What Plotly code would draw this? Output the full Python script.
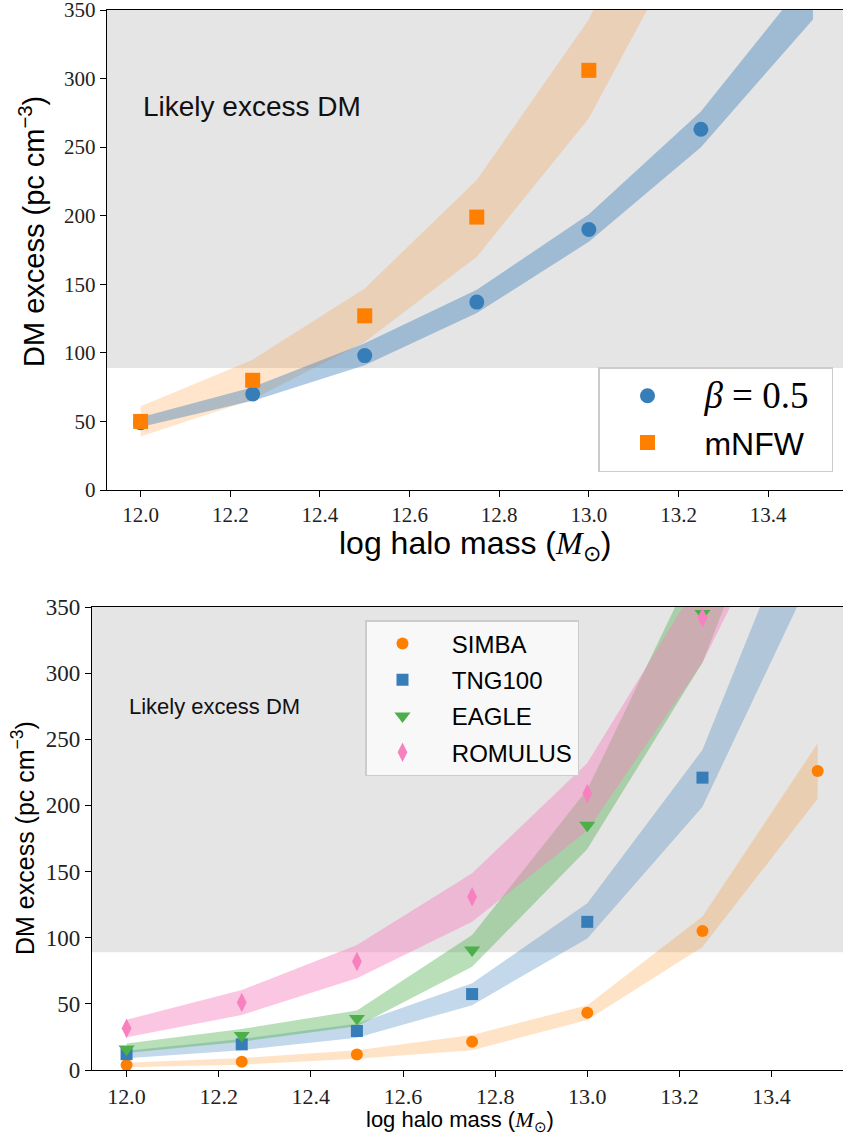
import plotly.graph_objects as go

# ---------------- data ----------------
log_mass = [12.0, 12.25, 12.5, 12.75, 13.0, 13.25, 13.5]
threshold = 89

# top panel
beta_val = [49, 70, 98, 137, 190, 263, 360]
beta_lo = [46, 65, 91, 129, 181, 250, 343]
beta_hi = [53, 75, 107, 146, 201, 276, 378]

mnfw_val = [50, 80, 127, 199, 306, 460, 680]
mnfw_lo = [39, 66, 108, 170, 271, 423, 620]
mnfw_hi = [61, 95, 147, 226, 343, 520, 760]

# bottom panel
simba_val = [3.8, 6.3, 11.8, 21.4, 43.3, 105, 226]
simba_lo = [2, 4, 8.5, 15, 37.8, 93, 205]
simba_hi = [5.5, 9, 15, 26.4, 49, 116, 247]

tng_val = [12, 19.4, 29.5, 57.4, 112, 221, 420]
tng_lo = [8.8, 15, 24.4, 49, 99.5, 199, 383]
tng_hi = [14.5, 23.5, 35, 65.5, 126, 242, 458]

eagle_val = [15.9, 26, 39, 90.7, 185, 345, 560]
eagle_lo = [12.8, 21.4, 33, 78, 167, 308, 531]
eagle_hi = [20, 31, 45, 102, 212, 393, 600]

romulus_val = [31.5, 51, 82, 131, 209, 342, 520]
romulus_lo = [24.7, 41.6, 69.3, 112, 181, 308, 483]
romulus_hi = [38, 60.5, 94.5, 148.7, 232, 374, 560]

x_ticks = [12.0, 12.2, 12.4, 12.6, 12.8, 13.0, 13.2, 13.4]
y_ticks = [0, 50, 100, 150, 200, 250, 300, 350]

ORANGE = "#ff7f00"
BLUE = "#377eb8"
GREEN = "#4daf4a"
PINK = "#f781bf"

SANS = "Liberation Sans"
SERIF = "Liberation Serif"

W, H = 843, 1139


def rgba(hexc, a):
    h = hexc.lstrip("#")
    r, g, b = int(h[0:2], 16), int(h[2:4], 16), int(h[4:6], 16)
    return f"rgba({r},{g},{b},{a})"


fig = go.Figure()


def band(xa, ya, lo, hi, color, alpha):
    fig.add_trace(go.Scatter(
        x=log_mass + log_mass[::-1], y=hi + lo[::-1], xaxis=xa, yaxis=ya,
        fill="toself", fillcolor=rgba(color, alpha), line=dict(width=0),
        mode="lines", showlegend=False, hoverinfo="skip"))


def points(xa, ya, vals, color, symbol, size, name, legend):
    fig.add_trace(go.Scatter(
        x=log_mass, y=vals, xaxis=xa, yaxis=ya, mode="markers", name=name,
        marker=dict(color=color, symbol=symbol, size=size, line=dict(width=0)),
        legend=legend, legendgroup=name))


NB = "\u00a0"

# top panel
band("x", "y", mnfw_lo, mnfw_hi, ORANGE, 0.2)
band("x", "y", beta_lo, beta_hi, BLUE, 0.4)
points("x", "y", beta_val, BLUE, "circle", 15,
       NB + f'<span style="font-family:{SERIF};font-size:37px"><i>β</i> = 0.5</span>' + NB * 2,
       "legend")
points("x", "y", mnfw_val, ORANGE, "square", 15, NB + "mNFW", "legend")

# bottom panel
band("x2", "y2", simba_lo, simba_hi, ORANGE, 0.22)
band("x2", "y2", tng_lo, tng_hi, BLUE, 0.3)
band("x2", "y2", eagle_lo, eagle_hi, GREEN, 0.4)
band("x2", "y2", romulus_lo, romulus_hi, PINK, 0.45)
points("x2", "y2", simba_val, ORANGE, "circle", 12, NB * 2 + "SIMBA", "legend2")
points("x2", "y2", tng_val, BLUE, "square", 12, NB * 2 + "TNG100", "legend2")
points("x2", "y2", eagle_val, GREEN, "triangle-down", 14, NB * 2 + "EAGLE", "legend2")
points("x2", "y2", romulus_val, PINK, "diamond-tall", 14, NB * 2 + "ROMULUS", "legend2")

# axes geometry (pixels)
top_px = dict(l=107, t=10, b=490)
bot_px = dict(l=92, t=607, b=1070)


def ydom(t, b):
    return [1 - b / H, 1 - t / H]


common_x = dict(showgrid=False, zeroline=False, showline=True, linecolor="black",
                linewidth=1.4, mirror=True, ticks="outside", ticklen=6, tickwidth=1.2,
                tickcolor="black", tickvals=x_ticks, tickformat=".1f",
                automargin=False, ticklabeloverflow="allow")
common_y = dict(showgrid=False, zeroline=False, showline=True, linecolor="black",
                linewidth=1.4, ticks="outside", ticklen=6, tickwidth=1.2,
                tickcolor="black", tickvals=y_ticks, range=[0, 350], automargin=False,
                ticklabeloverflow="allow")

fig.update_layout(
    width=W, height=H, margin=dict(l=0, r=0, t=0, b=0),
    paper_bgcolor="white", plot_bgcolor="white",
    xaxis=dict(**common_x, domain=[top_px["l"] / W, 1], range=[11.925, 13.567],
               anchor="y", tickfont=dict(family=SERIF, size=21, color="#222")),
    yaxis=dict(**common_y, domain=ydom(top_px["t"], top_px["b"]), anchor="x",
               tickfont=dict(family=SERIF, size=21, color="#222")),
    xaxis2=dict(**common_x, domain=[bot_px["l"] / W, 1], range=[11.925, 13.555],
                anchor="y2", tickfont=dict(family=SERIF, size=22, color="#222")),
    yaxis2=dict(**common_y, domain=ydom(bot_px["t"], bot_px["b"]), anchor="x2",
                tickfont=dict(family=SERIF, size=23, color="#222")),
    legend=dict(x=598 / W, y=1 - 367 / H, xanchor="left", yanchor="top",
                bgcolor="rgba(255,255,255,0.85)", bordercolor="#cccccc", borderwidth=1.5,
                font=dict(family=SANS, size=32, color="black"), itemwidth=86,
                traceorder="grouped", tracegroupgap=2),
    legend2=dict(x=365 / W, y=1 - 620 / H, xanchor="left", yanchor="top",
                 bgcolor="rgba(250,250,250,0.9)", bordercolor="#cccccc", borderwidth=1.5,
                 font=dict(family=SANS, size=24, color="black"), itemwidth=62,
                 traceorder="grouped", tracegroupgap=2),
    showlegend=True,
)

# "likely excess DM" shaded regions
for xa, ya in (("x", "y"), ("x2", "y2")):
    fig.add_shape(type="rect", xref=f"{xa} domain", yref=ya, x0=0, x1=1,
                  y0=threshold, y1=350, fillcolor="#e5e5e5", line=dict(width=0),
                  layer="below")

# annotations (text)
fig.add_annotation(xref="x", yref="y", x=12.0, y=280, text="Likely excess DM",
                   showarrow=False, xanchor="left", yanchor="middle",
                   font=dict(family=SANS, size=28, color="#111"))
fig.add_annotation(xref="x2", yref="y2", x=12.0, y=275, text="Likely excess DM",
                   showarrow=False, xanchor="left", yanchor="middle",
                   font=dict(family=SANS, size=22, color="#111"))

ytitle = "DM excess (pc cm<sup>−3</sup>)"
xtitle = f'log halo mass (<span style="font-family:{SERIF}"><i>M</i><sub>⊙</sub></span>)'
fig.add_annotation(xref="paper", yref="paper", x=32 / W, y=1 - 232 / H, text=ytitle,
                   textangle=-90, showarrow=False, xanchor="center", yanchor="middle",
                   font=dict(family=SANS, size=29, color="black"))
fig.add_annotation(xref="paper", yref="paper", x=475 / W, y=1 - 546 / H, text=xtitle,
                   showarrow=False, xanchor="center", yanchor="middle",
                   font=dict(family=SANS, size=32, color="black"))
fig.add_annotation(xref="paper", yref="paper", x=23 / W, y=1 - 838 / H, text=ytitle,
                   textangle=-90, showarrow=False, xanchor="center", yanchor="middle",
                   font=dict(family=SANS, size=25, color="black"))
fig.add_annotation(xref="paper", yref="paper", x=460 / W, y=1 - 1121 / H, text=xtitle,
                   showarrow=False, xanchor="center", yanchor="middle",
                   font=dict(family=SANS, size=22, color="black"))

fig.write_html("out.html", config={"displayModeBar": False},
               post_script="document.body.style.margin='0px';document.body.style.overflow='hidden';")
